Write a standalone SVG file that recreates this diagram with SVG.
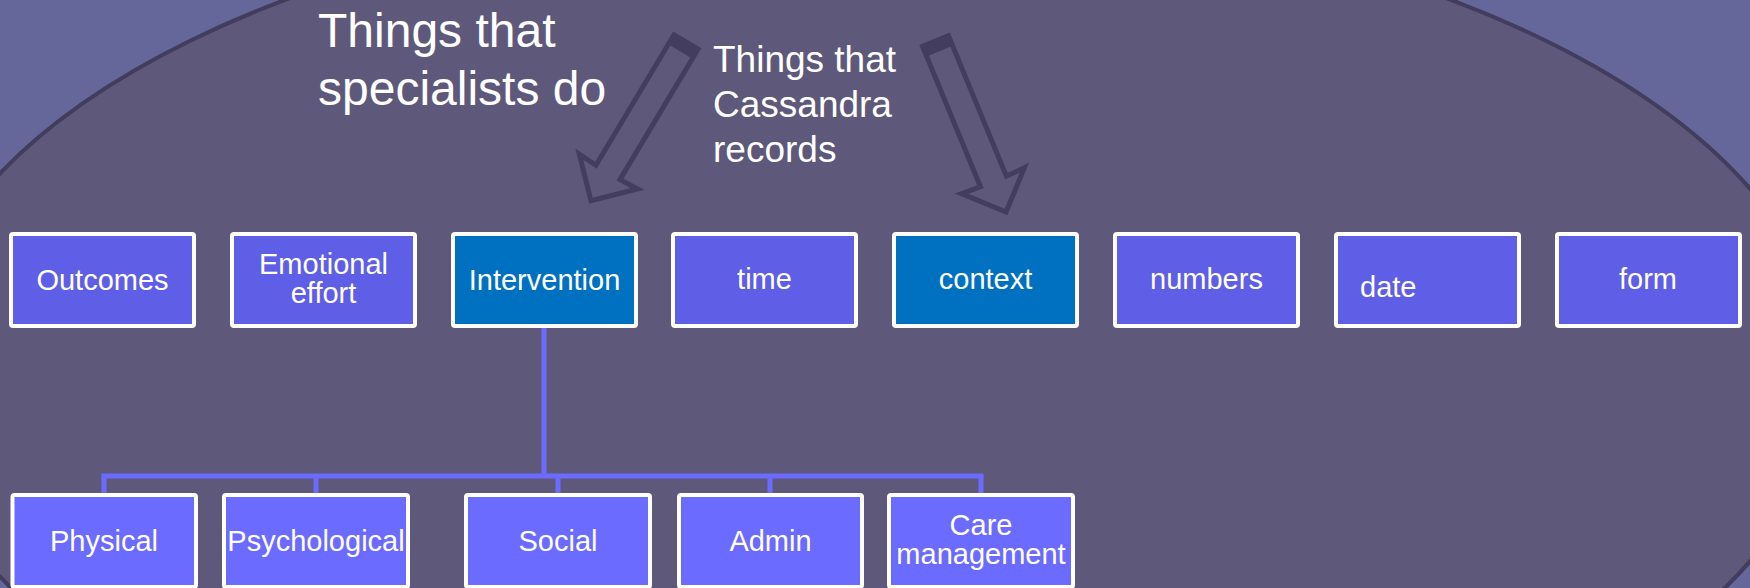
<svg xmlns="http://www.w3.org/2000/svg" width="1750" height="588" viewBox="0 0 1750 588">
  <defs>
    <style>
      .t { font-family: "Liberation Sans", Arial, sans-serif; fill: #ffffff; }
      .box { stroke: #ffffff; stroke-width: 4; }
      .top { fill: #5f5ee6; }
      .hi { fill: #0070c0; }
      .bot { fill: #6b6bff; }
      .lbl { font-size: 29px; text-anchor: middle; }
      .conn { stroke: #6b6bff; stroke-width: 5; fill: none; }
      .arrow { fill: none; stroke: #433e5f; stroke-width: 5; stroke-linejoin: miter; }
      .band { fill: #433e5f; }
    </style>
    <g id="blockArrow">
      <polygon class="arrow" points="-14,0 14,0 14,152 34,151 0,185 -34,151 -14,152"/>
      <rect class="band" x="-16" y="-2" width="32" height="13"/>
    </g>
  </defs>

  <rect x="0" y="0" width="1750" height="588" fill="#65679b"/>
  <ellipse cx="868" cy="375" rx="960" ry="472" fill="#5e597a" stroke="#423d5c" stroke-width="4"/>

  <g id="title-specialists">
    <text class="t" x="318" y="47" font-size="48">Things that</text>
    <text class="t" x="318" y="105" font-size="48">specialists do</text>
  </g>
  <g id="title-cassandra">
    <text class="t" x="713" y="72" font-size="37">Things that</text>
    <text class="t" x="713" y="117" font-size="37">Cassandra</text>
    <text class="t" x="713" y="162" font-size="37">records</text>
  </g>

  <g id="arrow-left">
    <use href="#blockArrow" transform="translate(686,42) rotate(30.9)"/>
  </g>
  <g id="arrow-right">
    <use href="#blockArrow" transform="translate(935.5,41) rotate(-22.4)"/>
  </g>

  <g id="connectors">
    <line class="conn" x1="544" y1="328" x2="544" y2="476"/>
    <line class="conn" x1="101.5" y1="476" x2="983.5" y2="476"/>
    <line class="conn" x1="104" y1="476" x2="104" y2="494"/>
    <line class="conn" x1="316" y1="476" x2="316" y2="494"/>
    <line class="conn" x1="558" y1="476" x2="558" y2="494"/>
    <line class="conn" x1="770" y1="476" x2="770" y2="494"/>
    <line class="conn" x1="981" y1="476" x2="981" y2="494"/>
  </g>

  <g id="node-outcomes">
    <rect class="box top" x="11" y="234" width="183" height="92" rx="2"/>
    <text class="t lbl" x="102.5" y="290">Outcomes</text>
  </g>
  <g id="node-emotional">
    <rect class="box top" x="232" y="234" width="183" height="92" rx="2"/>
    <text class="t lbl" x="323.5" y="274">Emotional</text>
    <text class="t lbl" x="323.5" y="303">effort</text>
  </g>
  <g id="node-intervention">
    <rect class="box hi" x="453" y="234" width="183" height="92" rx="2"/>
    <text class="t lbl" x="544.5" y="290">Intervention</text>
  </g>
  <g id="node-time">
    <rect class="box top" x="673" y="234" width="183" height="92" rx="2"/>
    <text class="t lbl" x="764.5" y="289">time</text>
  </g>
  <g id="node-context">
    <rect class="box hi" x="894" y="234" width="183" height="92" rx="2"/>
    <text class="t lbl" x="985.5" y="289">context</text>
  </g>
  <g id="node-numbers">
    <rect class="box top" x="1115" y="234" width="183" height="92" rx="2"/>
    <text class="t lbl" x="1206.5" y="289">numbers</text>
  </g>
  <g id="node-date">
    <rect class="box top" x="1336" y="234" width="183" height="92" rx="2"/>
    <text class="t" x="1360" y="297" font-size="29">date</text>
  </g>
  <g id="node-form">
    <rect class="box top" x="1557" y="234" width="183" height="92" rx="2"/>
    <text class="t lbl" x="1648" y="289">form</text>
  </g>

  <g id="node-physical">
    <rect class="box bot" x="12.5" y="495" width="183.5" height="92" rx="2"/>
    <text class="t lbl" x="104" y="551">Physical</text>
  </g>
  <g id="node-psychological">
    <rect class="box bot" x="224" y="495" width="184" height="92" rx="2"/>
    <text class="t lbl" x="316" y="551">Psychological</text>
  </g>
  <g id="node-social">
    <rect class="box bot" x="466" y="495" width="184" height="92" rx="2"/>
    <text class="t lbl" x="558" y="551">Social</text>
  </g>
  <g id="node-admin">
    <rect class="box bot" x="679" y="495" width="183" height="92" rx="2"/>
    <text class="t lbl" x="770.5" y="551">Admin</text>
  </g>
  <g id="node-care">
    <rect class="box bot" x="889" y="495" width="184" height="92" rx="2"/>
    <text class="t lbl" x="981" y="535">Care</text>
    <text class="t lbl" x="981" y="564">management</text>
  </g>
</svg>
